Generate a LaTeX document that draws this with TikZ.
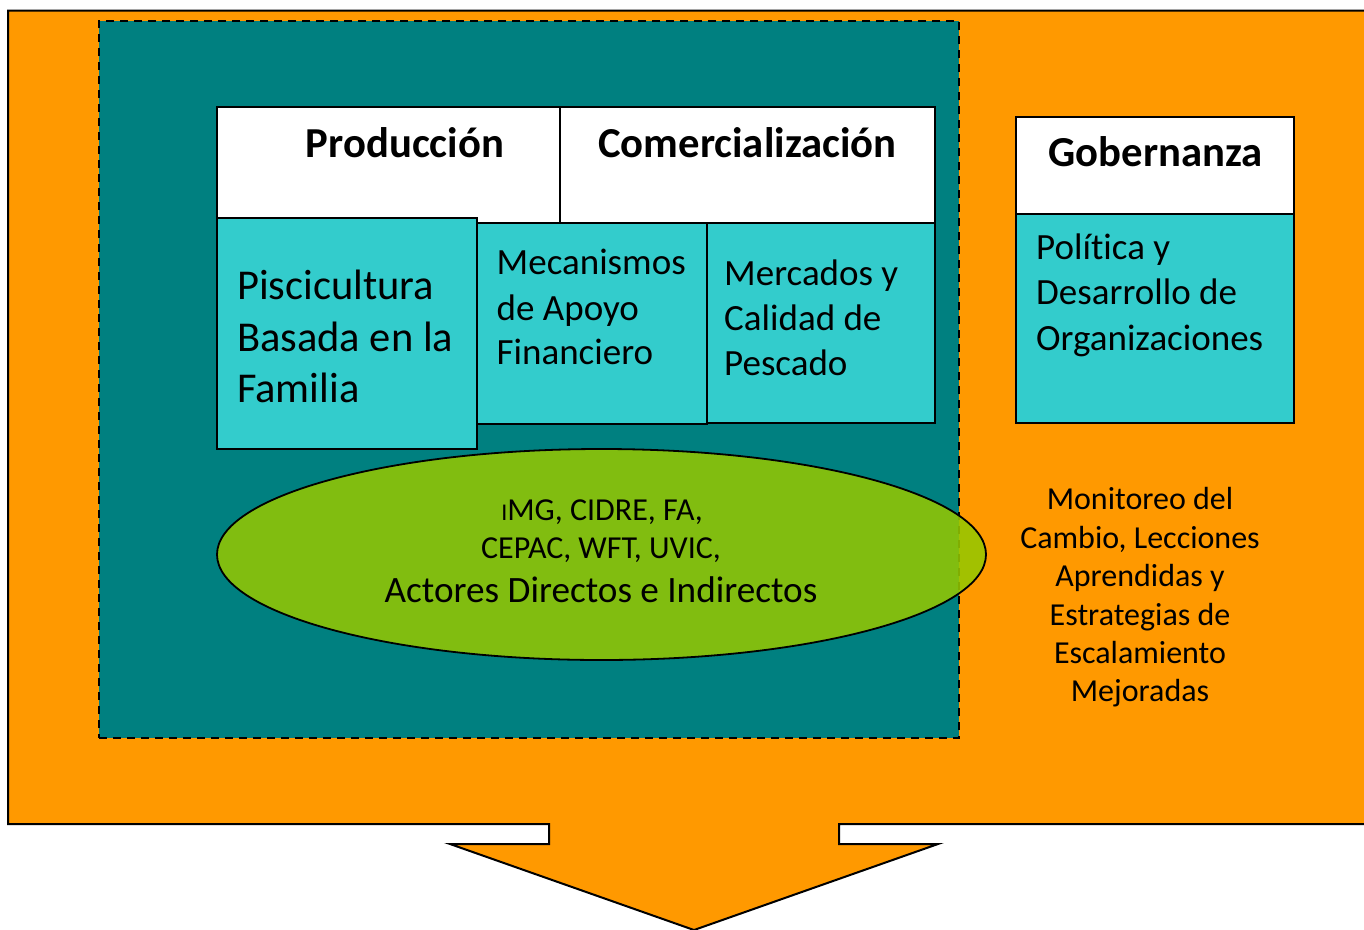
\documentclass[tikz,border=0pt]{standalone}
\usepackage{fontspec}
\setmainfont{Carlito}[Ligatures=NoCommon]
\definecolor{orangeA}{HTML}{FF9900}
\definecolor{tealA}{HTML}{008080}
\definecolor{turqA}{HTML}{33CCCC}
\definecolor{greenA}{HTML}{95C700}
\newcommand{\fs}[1]{\fontsize{#1}{#1}\selectfont}
\begin{document}
\begin{tikzpicture}[x=1pt,y=-1pt,
  pxbox/.style={draw=black,line width=1.8pt,inner sep=0pt,outer sep=0pt,anchor=north west},
  headbox/.style={pxbox,fill=white},
  bodybox/.style={pxbox,fill=turqA},
  headtext/.style={inner sep=0pt,anchor=base,font=\bfseries\fs{42.7}},
  linetext/.style={inner sep=0pt,anchor=base west}]
\useasboundingbox (0,0) rectangle (1364,929);
\fill[white] (0,0) rectangle (1364,929);
% big arrow-shaped callout
\draw[fill=orangeA,line width=2pt,line join=miter]
  (8,10.5) -- (1372,10.5) -- (1372,824) -- (839,824) -- (839,844) -- (938,844)
  -- (694,930) -- (450,844) -- (549,844) -- (549,824) -- (8,824) -- cycle;
% dashed teal panel
\node[pxbox,dash pattern=on 8pt off 6pt,fill=tealA,minimum width=860pt,minimum height=717pt] (panel) at (99,21) {};
% header boxes
\node[headbox,minimum width=343pt,minimum height=116pt] (prod) at (217,107) {};
\node[headbox,minimum width=375pt,minimum height=116pt] (com) at (560,107) {};
\node[headbox,minimum width=278pt,minimum height=97pt] (gob) at (1016,117) {};
% body boxes
\node[bodybox,minimum width=230pt,minimum height=201pt] (mec) at (477,223) {};
\node[bodybox,minimum width=228pt,minimum height=200pt] (mer) at (707,223) {};
\node[bodybox,minimum width=260pt,minimum height=231pt] (pis) at (217,218) {};
\node[bodybox,minimum width=278pt,minimum height=209pt] (pol) at (1016,214) {};
% ellipse
\draw[line width=1.8pt,fill=greenA,fill opacity=.87] (601.5,554.5) ellipse [x radius=384.5,y radius=105.5];
% texts
\node[headtext] (tprod) at (405,157.5) {Producción};
\node[headtext] (tcom) at (747.5,157.5) {Comercialización};
\node[headtext] (tgob) at (1155.5,166.5) {Gobernanza};
\node[linetext,font=\fs{42.5}] (p1) at (237,299.5) {Piscicultura};
\node[linetext,font=\fs{42.5}] (p2) at (237,351.5) {Basada en la};
\node[linetext,font=\fs{42.5}] (p3) at (237,402) {Familia};
\node[linetext,font=\fs{37}] (m1) at (496.5,274.5) {Mecanismos};
\node[linetext,font=\fs{37}] (m2) at (496.5,320) {de Apoyo};
\node[linetext,font=\fs{37}] (m3) at (496.5,364.5) {Financiero};
\node[linetext,font=\fs{37}] (c1) at (724,285.5) {Mercados y};
\node[linetext,font=\fs{37}] (c2) at (724,330) {Calidad de};
\node[linetext,font=\fs{37}] (c3) at (724,375.5) {Pescado};
\node[linetext,font=\fs{37}] (g1) at (1036,259.5) {Política y};
\node[linetext,font=\fs{37}] (g2) at (1036,304.5) {Desarrollo de};
\node[linetext,font=\fs{37}] (g3) at (1036,350) {Organizaciones};
\node[inner sep=0pt,anchor=base,font=\fs{32}] (e1) at (602,520.5) {{\fs{24}I}MG, CIDRE, FA,};
\node[inner sep=0pt,anchor=base,font=\fs{32}] (e2) at (601,558.5) {CEPAC, WFT, UVIC,};
\node[inner sep=0pt,anchor=base,font=\fs{37.2}] (e3) at (601,602.5) {Actores Directos e Indirectos};
\node[inner sep=0pt,anchor=base,font=\fs{32}] (r1) at (1140,509.5) {Monitoreo del};
\node[inner sep=0pt,anchor=base,font=\fs{32}] (r2) at (1140,548.5) {Cambio, Lecciones};
\node[inner sep=0pt,anchor=base,font=\fs{32}] (r3) at (1140,586.5) {Aprendidas y};
\node[inner sep=0pt,anchor=base,font=\fs{32}] (r4) at (1140,625.5) {Estrategias de};
\node[inner sep=0pt,anchor=base,font=\fs{32}] (r5) at (1140,663.5) {Escalamiento};
\node[inner sep=0pt,anchor=base,font=\fs{32}] (r6) at (1140,701.5) {Mejoradas};
\end{tikzpicture}
\end{document}
